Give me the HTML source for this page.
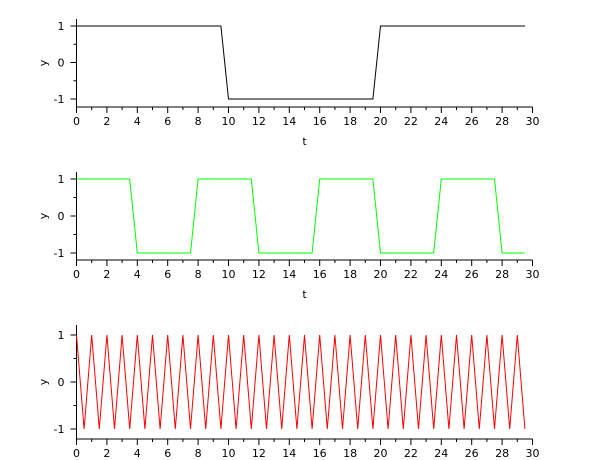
<!DOCTYPE html>
<html><head><meta charset="utf-8"><style>body{margin:0;background:#fff}svg{display:block}text{font-family:"DejaVu Sans","Liberation Sans",sans-serif;font-size:11px;fill:#000}</style></head>
<body>
<svg id="s" width="610" height="460" xmlns="http://www.w3.org/2000/svg"></svg>
<script>
const s=document.getElementById('s');
const X0=76.5,SX=15.2;
function el(t,a,txt){const e=document.createElementNS('http://www.w3.org/2000/svg',t);for(const k in a)e.setAttribute(k,a[k]);if(txt!==undefined)e.textContent=txt;s.appendChild(e);return e;}
function panel(top,y1,ym1,bot,f,color,showT){
  const y0=(y1+ym1)/2, sy=(ym1-y1)/2;
  el('line',{x1:X0,y1:top,x2:X0,y2:bot,stroke:'#000','stroke-width':1});
  el('line',{x1:X0,y1:bot,x2:X0+30*SX,y2:bot,stroke:'#000','stroke-width':1});
  for(let i=0;i<=30;i++){const x=X0+i*SX;const maj=i%2==0;
    el('line',{x1:x,y1:bot,x2:x,y2:bot+(maj?6:3),stroke:'#000'});
    if(maj)el('text',{x:x,y:bot+18,'text-anchor':'middle'},String(i));}
  [[1,'1'],[0.5,''],[0,'0'],[-0.5,''],[-1,'-1']].forEach(([v,l])=>{const y=y0-v*sy;
    el('line',{x1:X0,y1:y,x2:X0-(l?6:3),y2:y,stroke:'#000'});
    if(l)el('text',{x:X0-12,y:y+4,'text-anchor':'end'},l);});
  const ty=(top+bot)/2;
  el('text',{x:43,y:ty+4,'text-anchor':'middle',transform:`rotate(-90 43 ${ty})`,'font-size':'13px'},'y');
  if(showT)el('text',{x:X0+15*SX,y:bot+38,'text-anchor':'middle','font-size':'13px'},'t');
  let p=[];for(let i=0;i<=59;i++){const t=i*0.5;p.push((X0+t*SX).toFixed(1)+','+(y0-f(t)*sy).toFixed(1));}
  el('polyline',{points:p.join(' '),fill:'none',stroke:color,'stroke-width':1});
}
panel(19,26,99,107,t=>(Math.floor(t/10)%2==0?1:-1),'#000',true);
panel(172,179,253,260,t=>(Math.floor(t/4)%2==0?1:-1),'#00ff00',true);
panel(325,335,429,439,t=>(Math.abs(t-Math.round(t))<0.01?1:-1),'#ff0000',false);
</script>
</body></html>
